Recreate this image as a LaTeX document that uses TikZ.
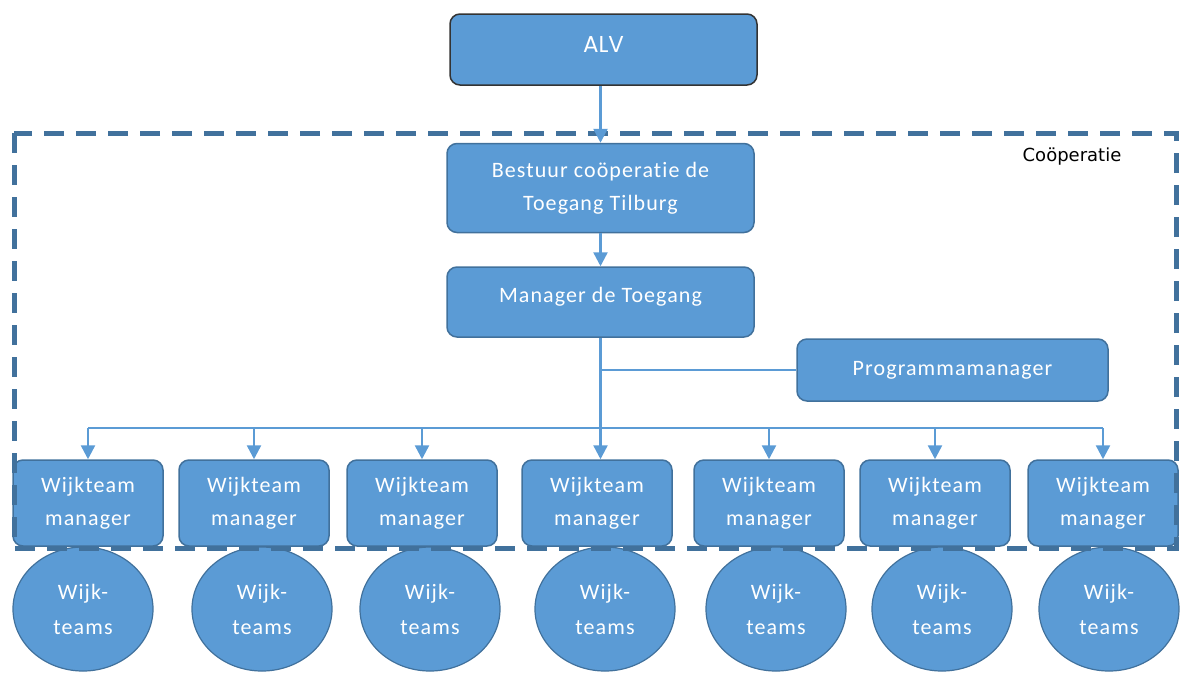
\documentclass[tikz,border=0pt]{standalone}
\usepackage{fontspec}
\usetikzlibrary{arrows.meta,shapes.geometric}
\newfontfamily\boxfont[LetterSpace=5,RawFeature={-liga;-clig;-dlig}]{Carlito}
\newfontfamily\alvfont{Poppins}
\newfontfamily\coopfont{DejaVu Sans}
\definecolor{fillblue}{HTML}{5B9BD5}
\definecolor{edgeblue}{HTML}{41719C}
\definecolor{dashblue}{HTML}{41719C}
\tikzset{
  orgbox/.style={draw=edgeblue, line width=1.5pt, fill=fillblue, rounded corners=10pt,
    text=white, align=center, inner sep=0pt,
    font=\boxfont\fontsize{22}{33}\selectfont},
  teamcircle/.style={ellipse, draw=edgeblue, line width=1.2pt, fill=fillblue,
    text=white, align=center, inner sep=0pt, minimum width=140pt, minimum height=124pt,
    font=\boxfont\fontsize{22}{35}\selectfont},
  conn/.style={draw=fillblue, line width=2.5pt},
  connarrow/.style={conn, -{Triangle[width=14pt,length=14pt]}},
  wkbox/.style={orgbox, minimum width=150pt, minimum height=86pt},
}
\begin{document}
\begin{tikzpicture}[x=1pt,y=-1pt]
\useasboundingbox (0,0) rectangle (1181,673);
% team circles
\foreach \i/\x in {1/83,2/262,3/430,4/605,5/776,6/942,7/1109}{
  \node[teamcircle] (c\i) at (\x,609) {Wijk-\\teams};
}
% wijkteam manager boxes
\foreach \i/\x in {1/88,2/254,3/422,4/597,5/769,6/935,7/1103}{
  \node[wkbox] (w\i) at (\x,503) {Wijkteam\\manager};
}
% cooperatie dashed frame
\draw[dashblue, line width=5pt, dash pattern=on 20pt off 12pt] (14,133) rectangle (1176,548);
\node[font=\coopfont\fontsize{18}{20}\selectfont, text=black] (coop) at (1072,157) {Coöperatie};
% upper boxes
\node[orgbox, draw=black!80, minimum width=307pt, minimum height=71pt, text depth=11pt,
      font=\alvfont\fontsize{23}{28}\selectfont] (alv) at (603.5,49.5) {ALV};
\node[orgbox, minimum width=307pt, minimum height=89pt] (bestuur) at (600.5,188)
  {Bestuur coöperatie de\\Toegang Tilburg};
\node[orgbox, minimum width=307pt, minimum height=70pt, text depth=14pt] (manager) at (600.5,302)
  {Manager de Toegang};
\node[orgbox, minimum width=311pt, minimum height=62pt] (prog) at (952.5,370)
  {Programmamanager};
% connectors
\draw[connarrow] (alv.south -| bestuur.north) -- (bestuur.north);
\draw[connarrow] (bestuur.south) -- (manager.north);
\coordinate (bus) at (0,428);
\draw[connarrow] (manager.south) -- (manager.south |- w4.north);
\draw[conn] (manager.south |- prog.west) -- (prog.west);
\draw[conn] (w1.north |- bus) -- (w7.north |- bus);
\foreach \i in {1,2,3,5,6,7}{
  \draw[connarrow] (w\i.north |- bus) -- (w\i.north);
}
\end{tikzpicture}
\end{document}
